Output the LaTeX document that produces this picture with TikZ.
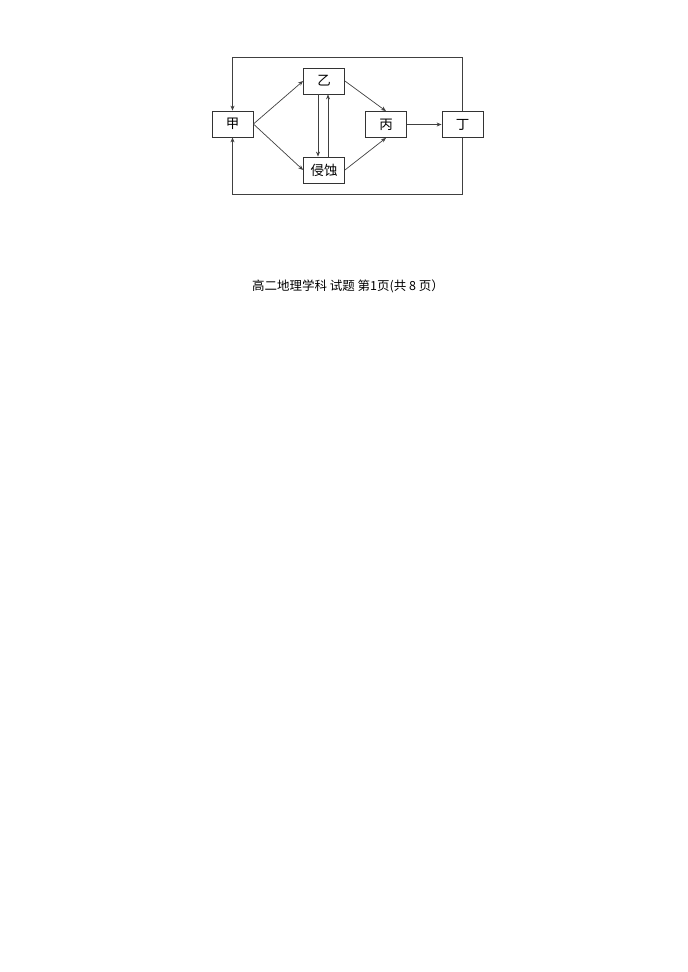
\documentclass[tikz,border=0pt]{standalone}
\usepackage{fontspec}
\setmainfont{Noto Sans CJK SC}
\usetikzlibrary{arrows.meta}

\begin{document}
\begin{tikzpicture}[x = 1pt, y = -1pt,
            box/.style = {draw = black!80, line width = 0.8pt, minimum width = 41pt, minimum height = 26pt, inner sep = 0pt, font = \fontsize{13.5}{13.5}\selectfont},
            arr/.style = {draw = black!75, line width = 0.7pt, -{Stealth[length = 5pt, width = 4pt]}}]
            \useasboundingbox (0,0) rectangle (688,972);
            %\draw (0,0) rectangle (688,972);
            \node[box] (jia) at (232.5,124) {甲};
            \node[box] (yi) at (324,81) {乙};
            \node[box] (qinshi) at (324,170) {侵蚀};
            \node[box] (bing) at (386,124.5) {丙};
            \node[box] (ding) at (462.5,124.5) {丁};
            \coordinate (top) at (0,57);
            \coordinate (bottom) at (0,194);

            \draw[arr] (jia.east) -- (yi.west);
            \draw[arr] (jia.east) -- (qinshi.west);
            \draw[arr] (yi.east) -- (bing.north);
            \draw[arr] (qinshi.east) -- (bing.south);
            \draw[arr] ([xshift = -6pt]yi.south) -- ([xshift = -6pt]qinshi.north);
            \draw[arr] ([xshift = 4pt]qinshi.north) -- ([xshift = 4pt]yi.south);
            \draw[arr] (bing.east) -- (ding.west);

            % loop back to jia
            \draw[arr] (ding.north) -- (ding.north |- top) -| (jia.north);
            \draw[arr] (ding.south) -- (ding.south |- bottom) -| (jia.south);

            \node[font = \fontsize{12.5}{13}\selectfont] (caption) at (348,286) {高二地理学科 试题 第1页(共 8 页）};
            \end{tikzpicture}
\end{document}
